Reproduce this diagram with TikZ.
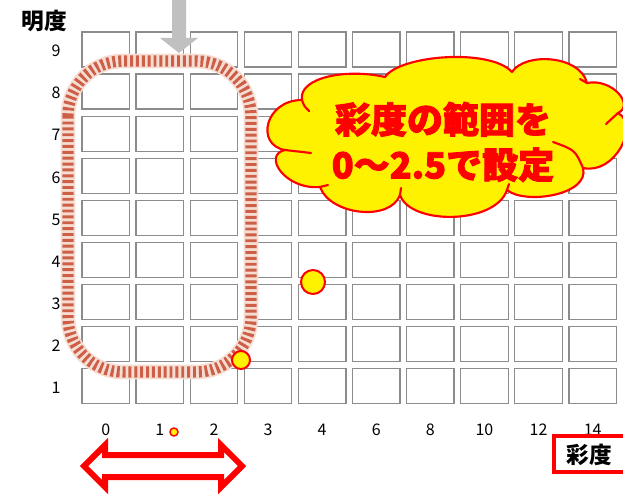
\documentclass[tikz,border=0pt]{standalone}
\usepackage{fontspec}
\setmainfont{Noto Sans CJK JP}
\newfontfamily\cjk{Noto Sans CJK JP}
\newfontfamily\cjkheavy[BoldFeatures={FakeBold=2.5}]{Noto Sans CJK JP}
\definecolor{halo}{HTML}{F6DDD2}
\definecolor{stripe}{HTML}{CD5E47}
\definecolor{cellgray}{HTML}{8C8C8C}
\definecolor{arrowgray}{HTML}{C0C0C0}
\begin{document}
\begin{tikzpicture}[x=0.75pt,y=-0.75pt,
  cell/.style={draw=cellgray,line width=1pt,fill=white},
  lab/.style={font=\cjk\fontsize{12}{14}\selectfont,inner sep=0pt},
  axlab/.style={font=\cjk\bfseries\fontsize{17}{19}\selectfont,inner sep=0pt},
  dot/.style={fill=yellow,draw=red,line width=1.5pt},
  cloudline/.style={draw=red,line width=1.6pt,line cap=round}]
\useasboundingbox (0,0) rectangle (623,495);
\fill[white] (0,0) rectangle (623,495);
% grid
\foreach \i in {0,...,9}
  \foreach \j in {0,...,8}
    \draw[cell] ({82+54.1*\i},{32+42.1*\j}) rectangle ++(47.5,35);
% row labels
\foreach \n [count=\j from 0] in {9,8,...,1}
  \node[lab] (r\n) at (56,{51+42.1*\j}) {\n};
% column labels
\foreach \t [count=\i from 0] in {0,1,2,3,4,6,8,10,12,14}
  \node[lab] (c\i) at ({105.75+54.1*\i},430) {\t};
% axis titles
\node[axlab] (ylab) at (44,21) {明度};
\draw[red,line width=3.5pt] (554,436) rectangle (630,472);
\node[axlab] (xlab) at (589,455) {彩度};
% gray arrow
\fill[arrowgray] (172,-5) -- (186,-5) -- (186,38) -- (198,38) -- (179,53) -- (160,38) -- (172,38) -- cycle;
% dashed rounded rectangle
\draw[halo,line width=11pt,rounded corners=41pt] (68,61) rectangle (251,372);
\draw[stripe,line width=8.5pt,dash pattern=on 2.2pt off 2.2pt,rounded corners=41pt] (68,61) rectangle (251,372);
% dots
\draw[dot] (241,360) circle (9);
\draw[dot] (313,282) circle (12);
\draw[dot,line width=1.1pt] (174,432) circle (4);
% cloud
\draw[fill=yellow,cloudline,line join=round]
  (302,100) .. controls (298,78) and (345,68) .. (385,77)
  .. controls (400,55) and (490,48) .. (512,72)
  .. controls (525,52) and (580,55) .. (587,83)
  .. controls (612,78) and (635,105) .. (618,113)
  .. controls (640,125) and (615,175) .. (583,168)
  .. controls (590,195) and (525,205) .. (507,190)
  .. controls (495,225) and (410,225) .. (400,195)
  .. controls (390,222) and (330,215) .. (320,187)
  .. controls (285,190) and (262,155) .. (285,150)
  .. controls (255,145) and (265,100) .. cycle;
% inner strokes of the cloud
\draw[cloudline] (302,100) .. controls (304,106) .. (309,111);
\draw[cloudline] (285,150) .. controls (298,151) .. (311,153);
\draw[cloudline] (320,187) -- (328,185);
\draw[cloudline] (400,195) -- (401,188);
\draw[cloudline] (507,190) -- (509,184);
\draw[cloudline] (583,168) .. controls (575,150) .. (553,142);
\draw[cloudline] (618,113) -- (606,124);
\draw[cloudline] (587,83) -- (580,79);
\node[font=\cjkheavy\bfseries\fontsize{27}{34}\selectfont,text=red,align=center,inner sep=0pt] (msg) at (443,142) {彩度の範囲を\\0～2.5で設定};
% double arrow
\draw[red,line width=4.5pt,fill=white,line join=miter]
  (84,466) -- (105,445) -- (105,455) -- (221,455) -- (221,445) -- (242,466)
  -- (221,487) -- (221,477) -- (105,477) -- (105,487) -- cycle;
\end{tikzpicture}
\end{document}
